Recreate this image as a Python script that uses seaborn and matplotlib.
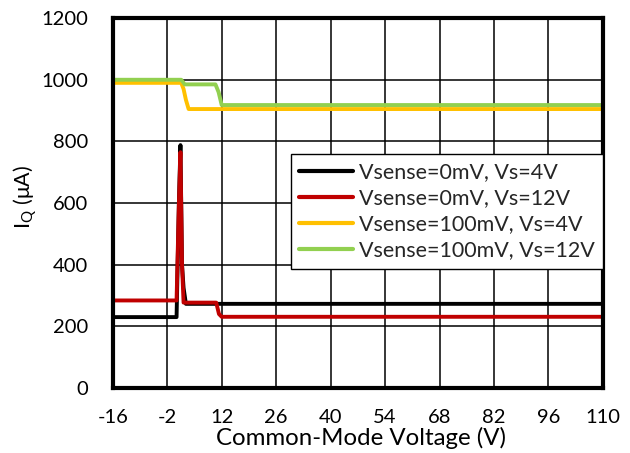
import matplotlib
matplotlib.use("Agg")
import matplotlib.pyplot as plt
import seaborn as sns
import pandas as pd

# Data
labels = ["Vsense=0mV, Vs=4V", "Vsense=0mV, Vs=12V",
          "Vsense=100mV, Vs=4V", "Vsense=100mV, Vs=12V"]
colors = ["#000000", "#C00000", "#FFC000", "#92D050"]

x_black = [-16, 0.4, 1.0, 1.4, 1.8, 2.2, 2.8, 110]
y_black = [230, 230, 600, 788, 400, 325, 273, 273]

x_red = [-16, 0.4, 1.0, 1.4, 1.8, 2.2, 10.6, 11.3, 12, 110]
y_red = [284, 284, 600, 765, 400, 277, 277, 240, 231, 231]

x_orange = [-16, 1.6, 2.2, 2.8, 3.5, 110]
y_orange = [990, 990, 970, 935, 905, 905]

x_green = [-16, 1.6, 2.5, 10.4, 11.2, 12, 110]
y_green = [1000, 1000, 985, 985, 960, 918, 918]

x_ticks = [-16, -2, 12, 26, 40, 54, 68, 82, 96, 110]
y_ticks = [0, 200, 400, 600, 800, 1000, 1200]

frames = []
for lab, xs, ys in zip(labels, [x_black, x_red, x_orange, x_green],
                       [y_black, y_red, y_orange, y_green]):
    for i, (a, b) in enumerate(zip(xs, ys)):
        frames.append({"series": lab, "x": a, "y": b, "order": i})
df = pd.DataFrame(frames)

sns.set_theme(style="white")
plt.rcParams["font.family"] = ["Lato", "DejaVu Sans"]
plt.rcParams["mathtext.fontset"] = "custom"
plt.rcParams["mathtext.rm"] = "Lato"

fig = plt.figure(figsize=(6.3, 4.53), dpi=100)
ax = fig.add_axes([0.179, 0.1435, 0.778, 0.8165])

ax.grid(True, color="black", linewidth=1.1)
ax.set_axisbelow(True)

sns.lineplot(data=df, x="x", y="y", hue="series", hue_order=labels,
             palette=colors, sort=False, estimator=None, units="series",
             linewidth=2.8, ax=ax, legend=False)

ax.set_xlim(-16, 110)
ax.set_ylim(0, 1200)
ax.set_xticks(x_ticks)
ax.set_yticks(y_ticks)
ax.set_xticklabels([str(t) for t in x_ticks])
ax.set_yticklabels([str(t) for t in y_ticks])
ax.tick_params(axis="both", length=0, labelsize=14.5, colors="black")
ax.tick_params(axis="x", pad=15)
ax.tick_params(axis="y", pad=18)

for s in ax.spines.values():
    s.set_visible(True)
    s.set_color("black")
    s.set_linewidth(3)

ax.set_xlabel("Common-Mode Voltage (V)", fontsize=17.3, color="black")
ax.set_ylabel(r"I$_\mathregular{Q}$ ($\mathregular{\mu}$A)", fontsize=15.5,
              color="black")
ax.xaxis.set_label_coords(0.506, -0.104)
ax.yaxis.set_label_coords(-0.149, 0.516)

handles = [plt.Line2D([], [], color=c, linewidth=3) for c in colors]
leg = ax.legend(handles, labels, loc="upper right", bbox_to_anchor=(1.0, 0.633),
                fontsize=15.5, frameon=True, fancybox=False, framealpha=1,
                edgecolor="black", handlelength=2.5, handletextpad=0.25,
                borderpad=0.4, labelspacing=0.28, borderaxespad=0)
leg.get_frame().set_linewidth(1.0)

fig.savefig("out.png", dpi=100)
